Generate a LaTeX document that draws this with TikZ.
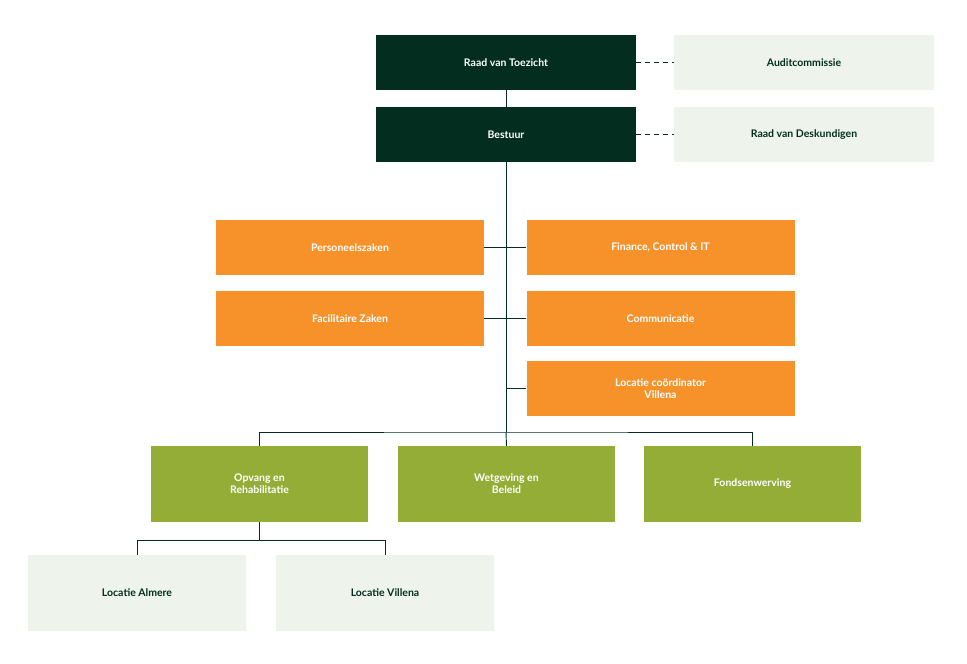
\documentclass[tikz,border=0pt]{standalone}
\usepackage{fontspec}
\setmainfont{Lato}
\definecolor{dk}{HTML}{032E1F}
\definecolor{lt}{HTML}{EEF3EC}
\definecolor{orng}{HTML}{F7922B}
\definecolor{grn}{HTML}{93AD37}
\begin{document}
\begin{tikzpicture}[x=1pt,y=-1pt,
  bx/.style={draw=none,minimum width=#1,align=center,font=\bfseries\fontsize{10.5}{12}\selectfont,inner sep=0pt},
  dkbox/.style={bx=260pt,fill=dk,text=white,minimum height=55pt},
  ltbox/.style={bx=260pt,fill=lt,text=dk,minimum height=55pt},
  orbox/.style={bx=268pt,fill=orng,text=white,minimum height=55pt},
  grbox/.style={bx=217pt,fill=grn,text=white,minimum height=76pt},
  lt2box/.style={bx=218pt,fill=lt,text=dk,minimum height=76pt},
  ln/.style={draw=dk,line width=0.9pt}]
\useasboundingbox (0,0) rectangle (967,664);
\node[dkbox] (rvt) at (506,62.5) {Raad van Toezicht};
\node[ltbox] (aud) at (804,62.5) {Auditcommissie};
\node[dkbox] (bes) at (506,134.5) {Bestuur};
\node[ltbox] (rvd) at (804,134.5) {Raad van Deskundigen};
\node[orbox] (per) at (350,247.5) {Personeelszaken};
\node[orbox] (fin) at (660.5,247.5) {Finance, Control \& IT};
\node[orbox] (fac) at (350,318.5) {Facilitaire Zaken};
\node[orbox] (com) at (660.5,318.5) {Communicatie};
\node[orbox] (loc) at (660.5,388.5) {Locatie coördinator\\Villena};
\node[grbox] (opv) at (259.5,484) {Opvang en\\Rehabilitatie};
\node[grbox] (wet) at (506.5,484) {Wetgeving en\\Beleid};
\node[grbox] (fon) at (752.5,484) {Fondsenwerving};
\node[lt2box] (alm) at (137,593) {Locatie Almere};
\node[lt2box] (vil) at (385,593) {Locatie Villena};
\coordinate (j) at (506,432);
\draw[ln] (rvt) -- (bes);
\draw[ln,dashed,dash pattern=on 5pt off 4pt] (rvt.east) -- (aud.west);
\draw[ln,dashed,dash pattern=on 5pt off 4pt] (bes.east) -- (rvd.west);
\draw[ln] (bes.south) -- (j);
\draw[ln] (per.east) -- (fin.west);
\draw[ln] (fac.east) -- (com.west);
\draw[ln] (506,388.5) -- (loc.west);
\draw[ln] (opv.north) |- (j) -| (fon.north);
\draw[ln] (j) -- (wet.north);
\draw[ln] (opv.south) -- ++(0,18) coordinate (k);
\draw[ln] (alm.north) |- (k) -| (vil.north);
\end{tikzpicture}
\end{document}
